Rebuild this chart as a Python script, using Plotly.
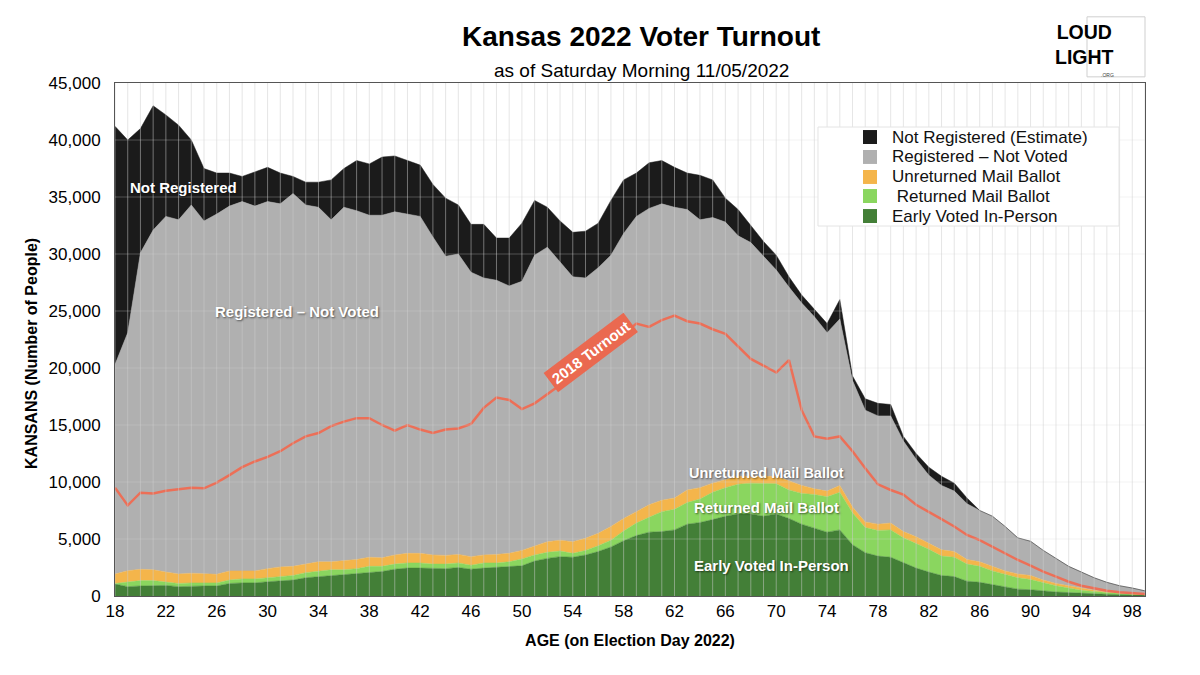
import plotly.graph_objects as go
import numpy as np

ages = [18, 19, 20, 21, 22, 23, 24, 25, 26, 27, 28, 29, 30, 31, 32, 33, 34, 35, 36, 37,
        38, 39, 40, 41, 42, 43, 44, 45, 46, 47, 48, 49, 50, 51, 52, 53, 54, 55, 56, 57,
        58, 59, 60, 61, 62, 63, 64, 65, 66, 67, 68, 69, 70, 71, 72, 73, 74, 75, 76, 77,
        78, 79, 80, 81, 82, 83, 84, 85, 86, 87, 88, 89, 90, 91, 92, 93, 94, 95, 96, 97,
        98, 99]

# Cumulative tops of each stacked band (number of people)
total_population = [41200, 40000, 41000, 43000, 42200, 41300, 40000, 37500, 37100, 37100,
                    36800, 37200, 37600, 37100, 36800, 36300, 36300, 36500, 37500, 38200,
                    37900, 38500, 38600, 38200, 37800, 36100, 34900, 34300, 32600, 32600,
                    31400, 31400, 32700, 34700, 34100, 32900, 31900, 32000, 32700, 34700,
                    36500, 37100, 38000, 38200, 37600, 37100, 36900, 36500, 34900, 33900,
                    32500, 31100, 29900, 28000, 26400, 25100, 23900, 26000, 19300, 17300,
                    16900, 16800, 14000, 12500, 11300, 10500, 9900, 8600, 7500, 7000,
                    6100, 5100, 4800, 4000, 3300, 2600, 2100, 1600, 1200, 900,
                    700, 450]
registered_top = [20300, 23100, 30100, 32100, 33300, 33000, 34300, 32900, 33500, 34200,
                  34600, 34200, 34600, 34400, 35300, 34300, 34100, 33000, 34100, 33800,
                  33400, 33400, 33700, 33500, 33300, 31500, 29800, 30000, 28400, 27900,
                  27700, 27200, 27600, 29900, 30600, 29300, 28000, 27900, 28800, 29900,
                  31800, 33300, 34000, 34400, 34100, 33900, 33000, 33200, 32800, 31600,
                  31000, 29800, 28600, 27100, 25700, 24500, 23100, 24300, 18900, 16300,
                  15800, 15800, 13600, 12000, 10600, 9700, 9200, 8100, 7500, 7000,
                  6100, 5100, 4800, 4000, 3300, 2600, 2100, 1600, 1200, 900,
                  700, 450]
unreturned_top = [1930, 2220, 2340, 2300, 2100, 1930, 2000, 1930, 1900, 2200,
                  2200, 2200, 2400, 2550, 2600, 2800, 3000, 3000, 3100, 3200,
                  3400, 3350, 3600, 3740, 3740, 3600, 3560, 3650, 3450, 3600,
                  3650, 3740, 4000, 4400, 4760, 4900, 4760, 5060, 5500, 6100,
                  6800, 7400, 8000, 8400, 8600, 9300, 9500, 9900, 10200, 10500,
                  10500, 10500, 10500, 10100, 9700, 9400, 9200, 9700, 7800, 6500,
                  6300, 6400, 5650, 5200, 4600, 4050, 3900, 3200, 3000, 2600,
                  2200, 1930, 1800, 1400, 1100, 900, 670, 500, 350, 260,
                  200, 150]
returned_top = [1100, 1250, 1350, 1350, 1250, 1100, 1150, 1150, 1150, 1400,
                1500, 1500, 1600, 1750, 1800, 2050, 2150, 2300, 2300, 2400,
                2600, 2600, 2800, 2900, 2900, 2800, 2800, 2900, 2700, 2900,
                2900, 3000, 3250, 3600, 3830, 3950, 3740, 4000, 4400, 4900,
                5700, 6400, 6900, 7400, 7600, 8200, 8500, 9100, 9500, 9800,
                9900, 9900, 9850, 9300, 9000, 8900, 8700, 9100, 7300, 6000,
                5750, 5800, 5100, 4600, 4100, 3500, 3400, 2800, 2600, 2200,
                1900, 1600, 1450, 1150, 900, 700, 500, 400, 300, 200,
                150, 120]
early_in_person = [1050, 820, 880, 900, 930, 820, 880, 880, 880, 1100,
                   1150, 1150, 1250, 1350, 1400, 1600, 1700, 1750, 1850, 2000,
                   2100, 2150, 2350, 2450, 2450, 2400, 2400, 2500, 2350, 2450,
                   2500, 2550, 2650, 3070, 3300, 3450, 3400, 3600, 3900, 4300,
                   4850, 5300, 5600, 5650, 5800, 6300, 6450, 6700, 7000, 7200,
                   7200, 7000, 7200, 6800, 6300, 5950, 5600, 5800, 4500, 3800,
                   3500, 3400, 2900, 2450, 2100, 1800, 1700, 1300, 1200, 1000,
                   760, 600, 550, 440, 350, 300, 230, 200, 150, 120,
                   100, 80]
turnout_2018 = [9500, 7950, 9060, 9000, 9240, 9360, 9500, 9450, 9940, 10600,
                11300, 11800, 12200, 12700, 13400, 14000, 14300, 14900, 15300, 15600,
                15600, 15000, 14500, 15000, 14600, 14300, 14600, 14700, 15100, 16500,
                17400, 17200, 16400, 16900, 17700, 18500, 19400, 20300, 21200, 22100,
                23000, 23900, 23600, 24200, 24600, 24100, 23900, 23400, 23000, 21900,
                20800, 20200, 19600, 20700, 16300, 14000, 13800, 14000, 12700, 11200,
                9800, 9300, 8900, 8000, 7400, 6750, 6100, 5350, 4900, 4300,
                3750, 3160, 2660, 2130, 1700, 1250, 900, 670, 460, 320,
                240, 180]

series_names = ["Early Voted In-Person", "Returned Mail Ballot", "Unreturned Mail Ballot",
                "Registered \u2013 Not Voted", "Not Registered (Estimate)"]
legend_labels = ["Not Registered (Estimate)", "Registered \u2013 Not Voted",
                 "Unreturned Mail Ballot", " Returned Mail Ballot", "Early Voted In-Person"]
series_colors = ["#437f37", "#8ad65f", "#f4b54b", "#b0b0b0", "#1b1b1b"]
x_ticks = [18, 22, 26, 30, 34, 38, 42, 46, 50, 54, 58, 62, 66, 70, 74, 78, 82, 86, 90, 94, 98]
y_ticks = [0, 5000, 10000, 15000, 20000, 25000, 30000, 35000, 40000, 45000]

tops = [np.array(early_in_person), np.array(returned_top), np.array(unreturned_top),
        np.array(registered_top), np.array(total_population)]
bands = [tops[0]] + [tops[i] - tops[i - 1] for i in range(1, len(tops))]

FONT = "Liberation Sans, Arial, Helvetica, sans-serif"

fig = go.Figure()
for name, col, band in zip(series_names, series_colors, bands):
    fig.add_trace(go.Scatter(x=ages, y=band, name=name, stackgroup="one", mode="lines",
                             line=dict(width=0.5, color=col), fillcolor=col,
                             showlegend=False, hoverinfo="skip"))

fig.add_trace(go.Scatter(x=ages, y=turnout_2018, mode="lines", name="2018 Turnout",
                         line=dict(color="#ec6f57", width=2.5), showlegend=False))

shapes = []
for a in ages:
    shapes.append(dict(type="line", xref="x", yref="paper", x0=a, x1=a, y0=0, y1=1,
                       line=dict(color="rgba(205,205,205,0.5)", width=1), layer="above"))
for v in y_ticks[1:-1]:
    shapes.append(dict(type="line", xref="paper", yref="y", x0=0, x1=1, y0=v, y1=v,
                       line=dict(color="rgba(215,215,215,0.3)", width=1), layer="above"))
# legend box (manual legend)
shapes.append(dict(type="rect", xref="paper", yref="paper", x0=0.6825, x1=0.9748,
                   y0=0.7212, y1=0.9142, fillcolor="white",
                   line=dict(color="#e4e4e4", width=1), layer="above"))
leg_rows = [0.8947, 0.8558, 0.8168, 0.7797, 0.7407]
half = 0.0136
for row, col in zip(leg_rows, series_colors[::-1]):
    shapes.append(dict(type="rect", xref="paper", yref="paper", x0=0.7262, x1=0.7398,
                       y0=row - half, y1=row + half, fillcolor=col,
                       line=dict(width=0), layer="above"))
# logo box
shapes.append(dict(type="rect", xref="paper", yref="paper", x0=0.9437, x1=1.0,
                   y0=1.012, y1=1.129, fillcolor="white",
                   line=dict(color="#cfcfcf", width=1), layer="above"))
fig.update_layout(shapes=shapes)

shadow = "1px 1px 2px rgba(0,0,0,0.55)"
ann = [
    dict(x=0.511, y=1.0897, xref="paper", yref="paper", yanchor="middle",
         text="<b>Kansas 2022 Voter Turnout</b>", showarrow=False,
         font=dict(size=28, color="#000", family=FONT)),
    dict(x=0.511, y=1.0253, xref="paper", yref="paper", yanchor="middle",
         text="as of Saturday Morning 11/05/2022", showarrow=False,
         font=dict(size=19, color="#000", family=FONT)),
    dict(x=-0.0806, y=0.4737, xref="paper", yref="paper", textangle=-90,
         xanchor="center", yanchor="middle",
         text="<b>KANSANS (Number of People)</b>", showarrow=False,
         font=dict(size=16, color="#000", family=FONT)),
    dict(x=23.35, y=35800, text="<b>Not Registered</b>", showarrow=False,
         font=dict(size=15, color="white", family=FONT, shadow=shadow)),
    dict(x=32.3, y=25000, text="<b>Registered \u2013 Not Voted</b>", showarrow=False,
         font=dict(size=15, color="white", family=FONT, shadow=shadow)),
    dict(x=69.2, y=10800, text="<b>Unreturned Mail Ballot</b>", showarrow=False,
         font=dict(size=14.5, color="white", family=FONT, shadow=shadow)),
    dict(x=69.2, y=7800, text="<b>Returned Mail Ballot</b>", showarrow=False,
         font=dict(size=15, color="white", family=FONT, shadow=shadow)),
    dict(x=69.6, y=2650, text="<b>Early Voted In-Person</b>", showarrow=False,
         font=dict(size=15, color="white", family=FONT, shadow=shadow)),
    dict(x=55.4, y=21400, text="<b>2018 Turnout</b>", showarrow=False, textangle=-37,
         bgcolor="#ea6950", borderpad=3,
         font=dict(size=15, color="white", family=FONT)),
    dict(x=0.9718, y=1.076, xref="paper", yref="paper", yanchor="middle",
         text="<b>LOUD</b><br><b>LIGHT</b>", showarrow=False,
         font=dict(size=19.5, color="#000", family="Liberation Sans", weight="bold")),
    dict(x=0.9718, y=1.0165, xref="paper", yref="paper", yanchor="middle",
         text=".ORG", showarrow=False,
         font=dict(size=5, color="#444", family=FONT)),
]
for row, lab in zip(leg_rows, legend_labels):
    ann.append(dict(x=0.7524, y=row, xref="paper", yref="paper", xanchor="left",
                    yanchor="middle", text=lab, showarrow=False,
                    font=dict(size=17, color="#111", family=FONT)))
fig.update_layout(annotations=ann)

fig.update_layout(
    width=1200, height=675,
    margin=dict(l=115, r=55, t=83, b=79),
    paper_bgcolor="white", plot_bgcolor="white",
    font=dict(family=FONT, color="#000"),
    showlegend=False,
    xaxis=dict(range=[18, 99], tickvals=x_ticks, showgrid=False, zeroline=False,
               showline=True, mirror=True, linecolor="#555", linewidth=1,
               tickfont=dict(size=17, color="#000"), ticks="",
               title=dict(text="<b>AGE (on Election Day 2022)</b>", font=dict(size=16), standoff=14)),
    yaxis=dict(range=[0, 45000], tickvals=y_ticks, tickformat=",", showgrid=False,
               zeroline=False, showline=True, mirror=True, linecolor="#555", linewidth=1,
               tickfont=dict(size=17, color="#000"), ticks="", ticklabelstandoff=10),
)

fig.write_html("out.html", config={"displayModeBar": False},
               post_script="document.body.style.margin='0px';")
